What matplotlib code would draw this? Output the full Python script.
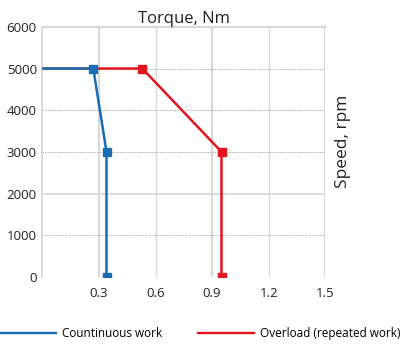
import numpy as np
import matplotlib
matplotlib.use('Agg')
import matplotlib.pyplot as plt
from matplotlib.lines import Line2D

plt.rcParams['font.family'] = ['Open Sans', 'DejaVu Sans']

# data
cont_torque = [0.0, 0.27, 0.34, 0.34]
cont_speed = [5000, 5000, 3000, 0]
over_torque = [0.0, 0.53, 0.95, 0.95]
over_speed = [5000, 5000, 3000, 0]
x_ticks = [0.3, 0.6, 0.9, 1.2, 1.5]
y_ticks = [0, 1000, 2000, 3000, 4000, 5000, 6000]

BLUE = '#1a6db4'
RED = '#e3141f'
GRID = '#d9d9d9'

fig = plt.figure(figsize=(4.0, 3.44), dpi=100)
ax = fig.add_axes([0.106, 0.195, 0.707, 0.727])

ax.set_xlim(0, 1.5)
ax.set_ylim(0, 6000)
ax.set_xticks(x_ticks)
ax.set_xticklabels(['%.1f' % t for t in x_ticks])
ax.set_yticks(y_ticks)
ax.tick_params(length=0, labelsize=9.5, colors='#222222', pad=4)
ax.tick_params(axis='x', pad=7)

# grid: solid verticals, dotted horizontals
for t in x_ticks:
    ax.axvline(t, color=GRID, lw=1.6 if t in (0.3, 0.9, 1.5) else 1.0, zorder=0)
for t in y_ticks[1:-1]:
    if t == 2000:
        ax.axhline(t, color=GRID, lw=1.3, zorder=0)
    else:
        ax.axhline(t, color='#9a9a9a', lw=0.6, ls=(0, (1.5, 1.5)), zorder=0)
ax.axhline(0, color='#9a9a9a', lw=0.6, ls=(0, (1.5, 1.5)), zorder=0)
for s in ['bottom', 'right']:
    ax.spines[s].set_visible(False)
ax.spines['left'].set_color(GRID)
ax.spines['left'].set_linewidth(1.3)
ax.spines['top'].set_color(GRID)
ax.spines['top'].set_linewidth(1.6)

ax.plot(over_torque, over_speed, color=RED, lw=1.8, zorder=2)
ax.plot(over_torque[1:], over_speed[1:], ls='none', marker='s', ms=5.5, color=RED, zorder=3)
ax.plot(cont_torque, cont_speed, color=BLUE, lw=1.8, zorder=4)
ax.plot(cont_torque[1:], cont_speed[1:], ls='none', marker='s', ms=5.5, color=BLUE, zorder=5)

ax.set_title('Torque, Nm', fontsize=12, color='#222222', pad=3)
fig.text(0.857, 0.59, 'Speed, rpm', rotation=90, fontsize=12.5, color='#222222',
         ha='center', va='center')

handles = [Line2D([], [], color=BLUE, lw=1.7), Line2D([], [], color=RED, lw=1.7)]
fig.legend(handles, ['Countinuous work', 'Overload (repeated work)'],
           loc='center', bbox_to_anchor=(0.5, 0.03), ncol=2, frameon=False,
           fontsize=8.5, handlelength=4.8, handletextpad=0.5, columnspacing=3.0)

plt.savefig('out.png', dpi=100)
